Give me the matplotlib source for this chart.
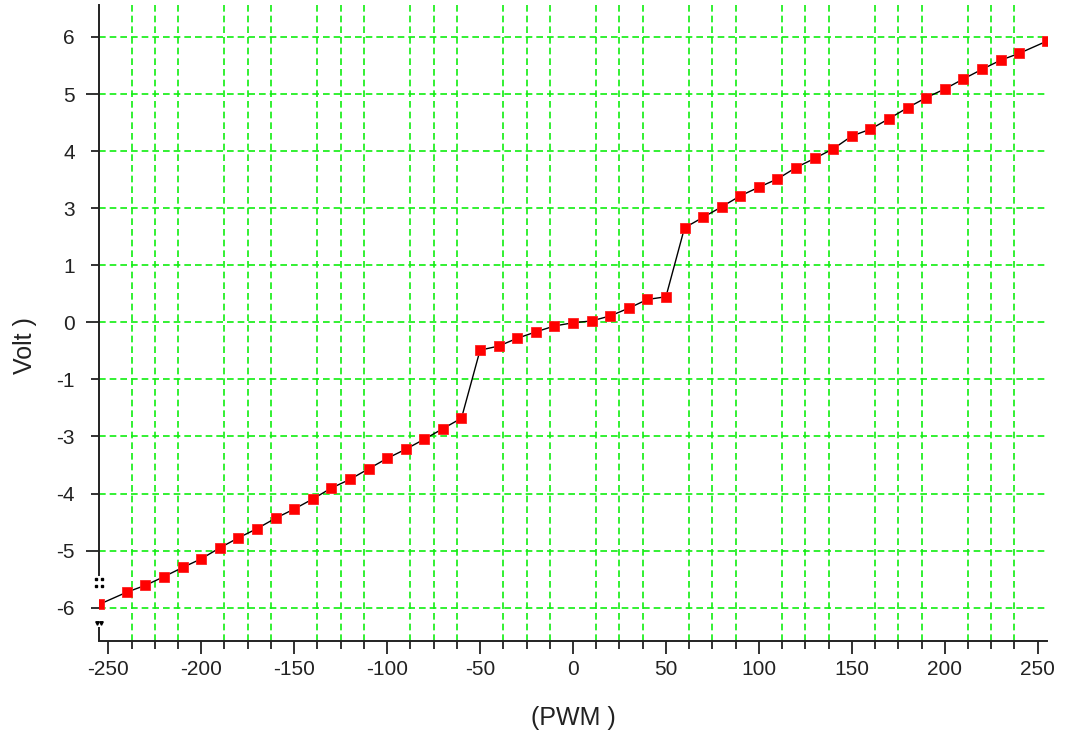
import numpy as np
import matplotlib
matplotlib.use('Agg')
import matplotlib.pyplot as plt
from matplotlib.ticker import MultipleLocator

plt.rcParams['font.family'] = ['Liberation Sans', 'DejaVu Sans']
plt.rcParams['axes.unicode_minus'] = False

# PWM command vs measured output voltage
pwm = [-255, -240, -230, -220, -210, -200, -190, -180, -170, -160,
       -150, -140, -130, -120, -110, -100, -90, -80, -70, -60,
       -50, -40, -30, -20, -10, 0, 10, 20, 30, 40,
       50, 60, 70, 80, 90, 100, 110, 120, 130, 140,
       150, 160, 170, 180, 190, 200, 210, 220, 230, 240, 255]
volt = [-6.18, -5.91, -5.76, -5.57, -5.37, -5.18, -4.94, -4.72, -4.52, -4.29,
        -4.09, -3.87, -3.63, -3.44, -3.21, -2.98, -2.78, -2.56, -2.33, -2.10,
        -0.61, -0.52, -0.35, -0.21, -0.08, -0.01, 0.03, 0.14, 0.31, 0.50,
        0.56, 2.07, 2.30, 2.53, 2.77, 2.96, 3.14, 3.39, 3.59, 3.80,
        4.08, 4.23, 4.46, 4.70, 4.92, 5.11, 5.33, 5.54, 5.74, 5.89, 6.16]

# y ticks every 1.25 V, labels rounded the way the logger prints them
y_major = [-5, 0, 5]
y_major_labels = ['-5', '0', '5']
y_minor = [-6.25, -3.75, -2.5, -1.25, 1.25, 2.5, 3.75, 6.25]
y_minor_labels = ['-6', '-4', '-3', '-1', '1', '3', '4', '6']

fig = plt.figure(figsize=(10.65, 7.4), dpi=100)
ax = fig.add_axes([99/1065, 99/740, 948/1065, 636/740])

ink = '#222222'
grid_green = '#11ee11'

ax.plot(pwm, volt, color='black', lw=1.0, zorder=3)
ax.plot(pwm, volt, ls='none', marker='s', ms=6.5, mfc='#ff0000', mec='#ff2020',
        mew=0.6, zorder=4)

ax.set_xlim(-255, 255)
ax.set_ylim(-6.98, 6.95)

ax.xaxis.set_major_locator(MultipleLocator(50))
ax.xaxis.set_minor_locator(MultipleLocator(12.5))
ax.set_yticks(y_major, y_major_labels)
ax.set_yticks(y_minor, y_minor_labels, minor=True)

ax.tick_params(axis='both', which='both', direction='out', colors=ink,
               labelsize=15, width=1.3)
ax.tick_params(axis='x', which='major', length=9.4, pad=4.5)
ax.tick_params(axis='x', which='minor', length=5.8)
ax.tick_params(axis='y', which='major', length=9.4, pad=7.9)
ax.tick_params(axis='y', which='minor', length=5.8, pad=11.5)

# grid: vertical lines only at the minor x ticks, horizontal at every y tick
ax.grid(False)
ax.grid(True, axis='x', which='minor', color=grid_green, ls=(0, (4, 2.4)), lw=1.2)
ax.grid(True, axis='y', which='both', color=grid_green, ls=(0, (4, 2.4)), lw=1.2)
ax.set_axisbelow(True)

for side in ('top', 'right'):
    ax.spines[side].set_visible(False)
for side in ('left', 'bottom'):
    ax.spines[side].set_color(ink)
    ax.spines[side].set_linewidth(1.4)

# left axis is broken near the bottom
ax.spines['left'].set_bounds(-5.53, 6.95)
ax.plot([0, 0], [0, 0.022], transform=ax.transAxes, color=ink, lw=1.4,
        clip_on=False, solid_capstyle='butt')
ax.plot([-0.003, 0.003, -0.003, 0.003], [0.097, 0.097, 0.087, 0.087],
        transform=ax.transAxes, ls='none', marker='s', ms=1.8, color='black',
        clip_on=False)
ax.plot([-0.002, 0.002], [0.028, 0.028], transform=ax.transAxes, ls='none',
        marker='v', ms=2.5, color='black', clip_on=False)

ax.set_xlabel('(PWM )', fontsize=18, color=ink)
ax.xaxis.label.set_verticalalignment('center')
ax.xaxis.set_label_coords(0.5, -0.121)
ax.set_ylabel('Volt )', fontsize=18, color=ink)
ax.yaxis.label.set_verticalalignment('center')
ax.yaxis.set_label_coords(-0.078, 0.464)

fig.savefig('out.png', dpi=100)
